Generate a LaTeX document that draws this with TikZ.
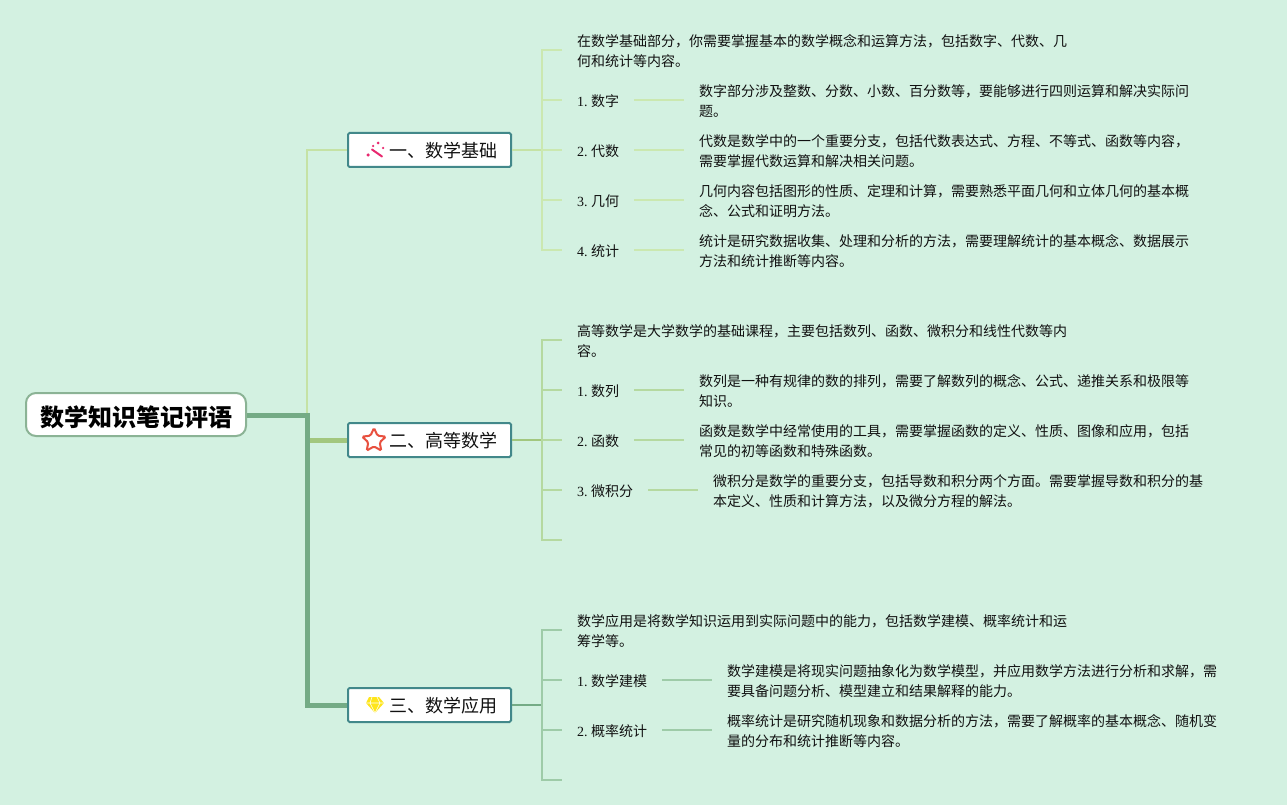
\documentclass[tikz,border=0pt]{standalone}
\usepackage{fontspec}
\usetikzlibrary{shapes.geometric}
\setmainfont{Liberation Serif}
\newfontfamily\cjk{Noto Sans CJK SC}
\definecolor{bgc}{HTML}{D3F1E1}
\definecolor{trunk}{HTML}{74AB85}
\definecolor{rootb}{HTML}{8BB395}
\definecolor{boxb}{HTML}{42888A}
\definecolor{gA}{HTML}{CBE8B0}
\definecolor{gAb}{HTML}{C5E2A5}
\definecolor{gB}{HTML}{B5D9A0}
\definecolor{gBb}{HTML}{A2C77E}
\definecolor{gC}{HTML}{9ECBA8}
\definecolor{ink}{HTML}{111111}
\definecolor{wand}{HTML}{E8286F}
\newcommand{\itemtext}[2]{\makebox[14pt][l]{#1}{\cjk #2}}
\tikzset{
 rootnode/.style={draw=rootb,fill=white,line width=2pt,rounded corners=10pt,inner sep=0pt,minimum width=220pt,minimum height=43pt,text height=23pt,text depth=0pt,font=\cjk\bfseries\fontsize{24}{28}\selectfont,text=black},
 branchbox/.style={draw=boxb,fill=white,line width=2pt,rounded corners=1.5pt,inner sep=0pt,text width=163pt,minimum height=34pt,text height=15.6pt,text depth=0pt,align=flush right,font=\cjk\fontsize{18}{22}\selectfont,text=ink},
 para/.style={anchor=west,inner sep=0pt,align=left,font=\cjk\fontsize{14}{20}\selectfont,text=ink},
 itemlabel/.style={anchor=west,inner sep=0pt,align=left,text height=12.6pt,text depth=0pt,font=\fontsize{14}{20}\selectfont,text=ink},
 linkA/.style={draw=gA,line width=1.5pt},
 linkB/.style={draw=gB,line width=1.5pt},
 linkC/.style={draw=gC,line width=1.5pt},
 icondot/.style={circle,fill=wand,inner sep=0pt,minimum size=3pt},
}
\begin{document}
\begin{tikzpicture}[x=1pt,y=-1pt]
\useasboundingbox[fill=bgc] (0,0) rectangle (1287,805);
% main nodes
\node[rootnode] (root) at (136,414.5) {数学知识笔记评语};
\node[branchbox] (b1) at (429.5,150) {一、数学基础\hspace*{14pt}};
\node[branchbox] (b2) at (429.5,440) {二、高等数学\hspace*{14pt}};
\node[branchbox] (b3) at (429.5,705) {三、数学应用\hspace*{14pt}};
\coordinate (tk) at (307,415);
\coordinate (j1) at (542,150);
\coordinate (j2) at (542,440);
\coordinate (j3) at (542,705);
% trunk connectors
\draw[gAb,line width=1.5pt] (tk) -- (tk |- b1.west) -- (b1.west);
\draw[gBb,line width=5pt] (tk |- b2.west) -- (b2.west);
\draw[trunk,line width=5pt] (root.east |- tk) -- (tk) -- (tk |- b3.west) -- (b3.west);
\draw[gAb,line width=1.5pt] (b1.east) -- (j1);
\draw[gBb,line width=1.5pt] (b2.east) -- (j2);
\draw[trunk,line width=1.5pt] (b3.east) -- (j3);
% icons
\draw[line width=2pt,color=wand,line cap=round] (372,149.5) -- (382,156.5);
\node[icondot,minimum size=3.5pt] (w1) at (368,155) {};
\node[icondot,minimum size=3pt] (w2) at (378,143) {};
\node[icondot,minimum size=2.5pt] (w3) at (383,148) {};
\node[icondot,minimum size=2.5pt] (w4) at (373,146) {};
\node[star,star points=5,star point ratio=2.1,draw={rgb,255:red,232;green,80;blue,63},line width=2pt,rounded corners=1.5pt,minimum size=25pt,inner sep=0pt,fill=white] (st) at (374,440.5) {};
\fill[yellow!85!orange!90!white] (369,697) -- (379,697) -- (384,703) -- (375,713) -- (366,703) -- cycle;
\draw[white,line width=.6pt] (366,703) -- (384,703) (372,697) -- (370,703) -- (375,713) -- (380,703) -- (377,697);
% group 1
\node[para] (t1) at (577,51) {在数学基础部分，你需要掌握基本的数学概念和运算方法，包括数字、代数、几\\何和统计等内容。};
\node[itemlabel,text width=57pt] (l11) at (577,100) {\itemtext{1.}{数字}};
\node[itemlabel,text width=57pt] (l12) at (577,150) {\itemtext{2.}{代数}};
\node[itemlabel,text width=57pt] (l13) at (577,200) {\itemtext{3.}{几何}};
\node[itemlabel,text width=57pt] (l14) at (577,250) {\itemtext{4.}{统计}};
\node[para] (d11) at (699,101) {数字部分涉及整数、分数、小数、百分数等，要能够进行四则运算和解决实际问\\题。};
\node[para] (d12) at (699,151) {代数是数学中的一个重要分支，包括代数表达式、方程、不等式、函数等内容，\\需要掌握代数运算和解决相关问题。};
\node[para] (d13) at (699,201) {几何内容包括图形的性质、定理和计算，需要熟悉平面几何和立体几何的基本概\\念、公式和证明方法。};
\node[para] (d14) at (699,251) {统计是研究数据收集、处理和分析的方法，需要理解统计的基本概念、数据展示\\方法和统计推断等内容。};
\coordinate (a0) at (562,50);\coordinate (a1) at (562,100);\coordinate (a2) at (562,150);\coordinate (a3) at (562,200);\coordinate (a4) at (562,250);
\draw[linkA] (a0) -- (j1 |- a0) -- (j1 |- a4) -- (a4);
\foreach \k in {a1,a2,a3} \draw[linkA] (j1 |- \k) -- (\k);
\foreach \k in {1,2,3,4} \draw[linkA] (l1\k.east) -- ([xshift=-15pt]l1\k.east -| d1\k.west);
% group 2
\node[para] (t2) at (577,341) {高等数学是大学数学的基础课程，主要包括数列、函数、微积分和线性代数等内\\容。};
\node[itemlabel,text width=57pt] (l21) at (577,390) {\itemtext{1.}{数列}};
\node[itemlabel,text width=57pt] (l22) at (577,440) {\itemtext{2.}{函数}};
\node[itemlabel,text width=71pt] (l23) at (577,490) {\itemtext{3.}{微积分}};
\node[para] (d21) at (699,391) {数列是一种有规律的数的排列，需要了解数列的概念、公式、递推关系和极限等\\知识。};
\node[para] (d22) at (699,441) {函数是数学中经常使用的工具，需要掌握函数的定义、性质、图像和应用，包括\\常见的初等函数和特殊函数。};
\node[para] (d23) at (713,491) {微积分是数学的重要分支，包括导数和积分两个方面。需要掌握导数和积分的基\\本定义、性质和计算方法，以及微分方程的解法。};
\coordinate (b0) at (562,340);\coordinate (bb1) at (562,390);\coordinate (bb2) at (562,440);\coordinate (bb3) at (562,490);\coordinate (bb4) at (562,540);
\draw[linkB] (b0) -- (j2 |- b0) -- (j2 |- bb4) -- (bb4);
\foreach \k in {bb1,bb2,bb3} \draw[linkB] (j2 |- \k) -- (\k);
\foreach \k in {1,2,3} \draw[linkB] (l2\k.east) -- ([xshift=-15pt]l2\k.east -| d2\k.west);
% group 3
\node[para] (t3) at (577,631) {数学应用是将数学知识运用到实际问题中的能力，包括数学建模、概率统计和运\\筹学等。};
\node[itemlabel,text width=85pt] (l31) at (577,680) {\itemtext{1.}{数学建模}};
\node[itemlabel,text width=85pt] (l32) at (577,730) {\itemtext{2.}{概率统计}};
\node[para] (d31) at (727,681) {数学建模是将现实问题抽象化为数学模型，并应用数学方法进行分析和求解，需\\要具备问题分析、模型建立和结果解释的能力。};
\node[para] (d32) at (727,731) {概率统计是研究随机现象和数据分析的方法，需要了解概率的基本概念、随机变\\量的分布和统计推断等内容。};
\coordinate (c0) at (562,630);\coordinate (c1) at (562,680);\coordinate (c2) at (562,730);\coordinate (c3) at (562,780);
\draw[linkC] (c0) -- (j3 |- c0) -- (j3 |- c3) -- (c3);
\foreach \k in {c1,c2} \draw[linkC] (j3 |- \k) -- (\k);
\foreach \k in {1,2} \draw[linkC] (l3\k.east) -- ([xshift=-15pt]l3\k.east -| d3\k.west);
\end{tikzpicture}
\end{document}
